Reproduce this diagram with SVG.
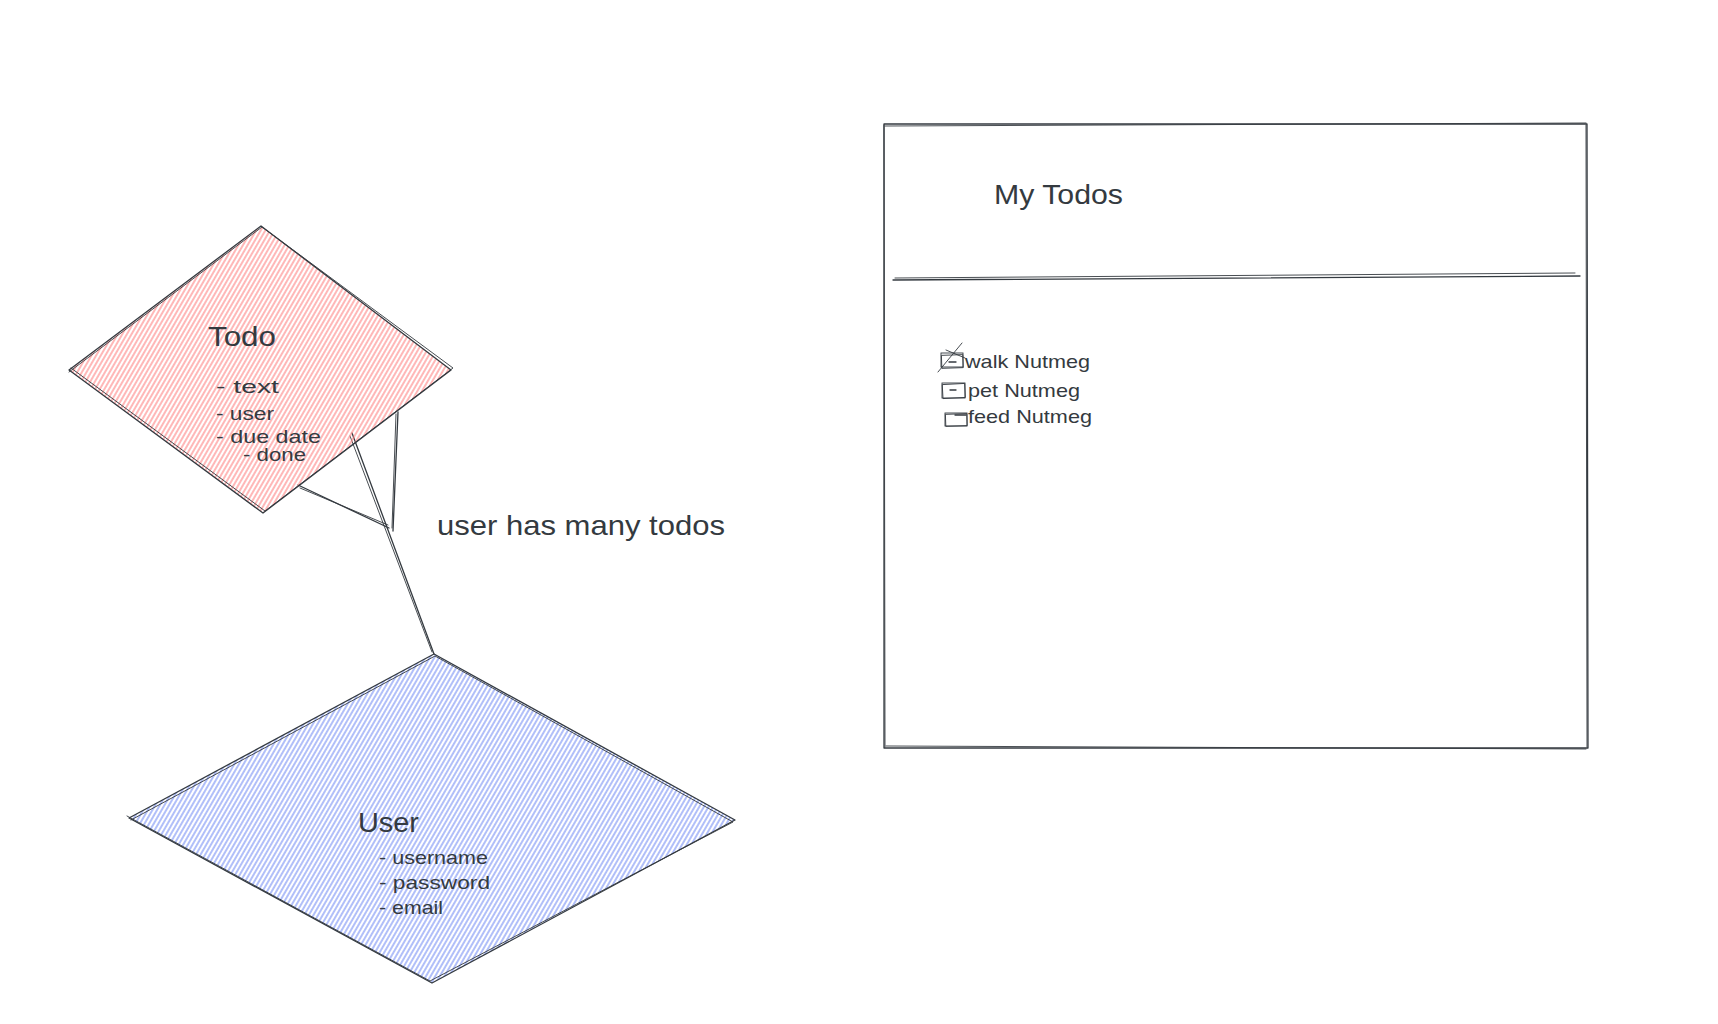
<svg xmlns="http://www.w3.org/2000/svg" width="1718" height="1024" viewBox="0 0 1718 1024">
  <defs>
    <pattern id="hatchRed" patternUnits="userSpaceOnUse" width="4" height="4" patternTransform="rotate(30)">
      <line x1="1" y1="0" x2="1" y2="4" stroke="#ff8787" stroke-width="1.4"/>
    </pattern>
    <pattern id="hatchBlue" patternUnits="userSpaceOnUse" width="4" height="4" patternTransform="rotate(30)">
      <line x1="1" y1="0" x2="1" y2="4" stroke="#7b93f5" stroke-width="1.4"/>
    </pattern>
  </defs>
  <style>
    .outline { fill: none; stroke: #343a40; stroke-width: 1.3; stroke-linejoin: round; stroke-linecap: round; }
    .thin { fill: none; stroke: #343a40; stroke-width: 0.9; stroke-linecap: round; }
    .conn { fill: none; stroke: #343a40; stroke-width: 1.3; stroke-linecap: round; }
    .title { font-family: "Liberation Sans", "DejaVu Sans", sans-serif; font-size: 27px; fill: #343a40; }
    .item { font-family: "Liberation Sans", "DejaVu Sans", sans-serif; font-size: 19px; fill: #343a40; }
    .label { font-family: "Liberation Sans", "DejaVu Sans", sans-serif; font-size: 28px; fill: #343a40; }
  </style>
  <rect width="1718" height="1024" fill="#ffffff"/>

  <g id="connectors">
    <line class="conn" x1="434" y1="654" x2="352" y2="433"/>
    <line class="thin" x1="432" y1="652" x2="350" y2="436"/>
    <line class="conn" x1="298" y1="485" x2="389" y2="528"/>
    <line class="thin" x1="300" y1="488" x2="388" y2="525"/>
    <line class="conn" x1="398" y1="412" x2="393" y2="531"/>
    <line class="thin" x1="396" y1="414" x2="392" y2="528"/>
  </g>

  <g id="todo">
    <polygon points="261,226 451,370 263,513 69,370" fill="url(#hatchRed)" opacity="0.85"/>
    <polygon class="outline" points="261,226 451,370 263,513 69,370"/>
    <polyline class="thin" points="69,372 262,227 453,368 265,511 71,368"/>
    <text class="title" x="208" y="346" textLength="68" lengthAdjust="spacingAndGlyphs">Todo</text>
    <text class="item" x="216" y="393" textLength="63" lengthAdjust="spacingAndGlyphs">- text</text>
    <text class="item" x="216" y="420" textLength="58" lengthAdjust="spacingAndGlyphs">- user</text>
    <text class="item" x="216" y="443" textLength="105" lengthAdjust="spacingAndGlyphs">- due date</text>
    <text class="item" x="243" y="461" font-size="18" textLength="63" lengthAdjust="spacingAndGlyphs">- done</text>
  </g>

  <g id="user">
    <polygon points="434,654 735,820 432,983 129,818" fill="url(#hatchBlue)" opacity="0.85"/>
    <polygon class="outline" points="434,654 735,820 432,983 129,818"/>
    <polyline class="thin" points="131,820 435,656 733,822 430,981 127,816"/>
    <text class="title" x="358" y="832" textLength="61" lengthAdjust="spacingAndGlyphs">User</text>
    <text class="item" x="379" y="864" textLength="109" lengthAdjust="spacingAndGlyphs">- username</text>
    <text class="item" x="379" y="889" textLength="111" lengthAdjust="spacingAndGlyphs">- password</text>
    <text class="item" x="379" y="914" textLength="64" lengthAdjust="spacingAndGlyphs">- email</text>
  </g>

  <g id="relation-label">
    <text class="label" x="437" y="535" textLength="288" lengthAdjust="spacingAndGlyphs">user has many todos</text>
  </g>

  <g id="mockup">
    <path class="outline" d="M884,124 L1587,124 L1588,748 L884,748 Z"/>
    <path class="thin" d="M885,126 L1586,123 M1586,125 L1587,747 M1586,749 L886,746 M885,747 L884,125"/>
    <path class="outline" d="M893,280 L1580,276"/>
    <path class="thin" d="M895,278 L1575,273"/>
    <text class="title" x="994" y="204" textLength="129" lengthAdjust="spacingAndGlyphs">My Todos</text>
  </g>

  <g id="todo-walk">
    <rect class="thin" x="941" y="353" width="22" height="14"/>
    <rect class="thin" x="942" y="355" width="21" height="13" transform="rotate(-2 952 361)"/>
    <line class="conn" x1="949" y1="362" x2="956" y2="362"/>
    <line class="thin" x1="938" y1="372" x2="962" y2="343"/>
    <line class="thin" x1="946" y1="350" x2="965" y2="358"/>
    <text class="item" x="965" y="368" textLength="125" lengthAdjust="spacingAndGlyphs">walk Nutmeg</text>
  </g>

  <g id="todo-pet">
    <rect class="thin" x="942" y="383" width="23" height="15"/>
    <rect class="thin" x="943" y="384" width="22" height="14" transform="rotate(-3 954 391)"/>
    <line class="conn" x1="950" y1="390" x2="956" y2="390"/>
    <text class="item" x="968" y="397" textLength="112" lengthAdjust="spacingAndGlyphs">pet Nutmeg</text>
  </g>

  <g id="todo-feed">
    <rect class="thin" x="945" y="413" width="22" height="13"/>
    <rect class="thin" x="946" y="414" width="21" height="12" transform="rotate(-2 956 420)"/>
    <line class="conn" x1="955" y1="415" x2="966" y2="415"/>
    <text class="item" x="968" y="423" textLength="124" lengthAdjust="spacingAndGlyphs">feed Nutmeg</text>
  </g>
</svg>
